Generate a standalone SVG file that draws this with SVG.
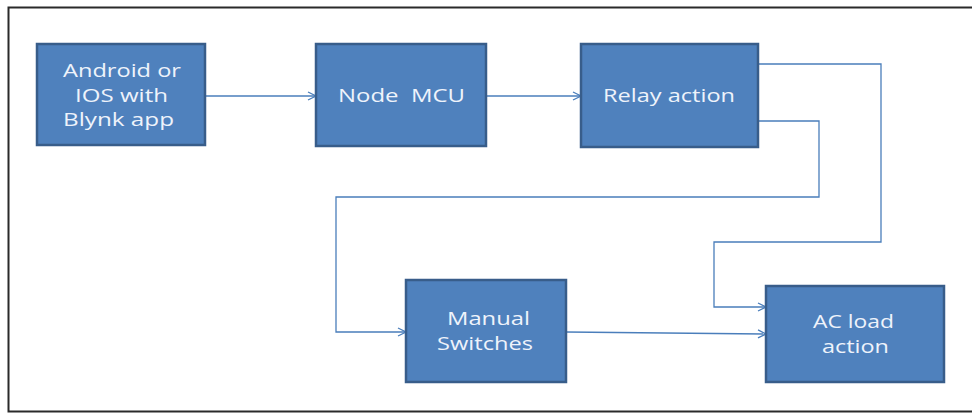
<svg xmlns="http://www.w3.org/2000/svg" width="972" height="413" viewBox="0 0 972 413">
<style>
.box{fill:#4f81bd;stroke:#385d8a;stroke-width:2.5}
.lbl{font-family:"Open Sans","Liberation Sans",sans-serif;font-size:18px;fill:#eef3fb;text-anchor:middle}
.con{fill:none;stroke:#4a7ebb;stroke-width:1.3;marker-end:url(#arr)}
</style>
<defs>
<marker id="arr" viewBox="0 0 10 10" refX="9" refY="5" markerWidth="10" markerHeight="10" markerUnits="userSpaceOnUse" orient="auto">
<path d="M1,1 L9,5 L1,9" fill="none" stroke="#4a7ebb" stroke-width="1.3"/>
</marker>
</defs>
<rect x="0" y="0" width="972" height="413" fill="#fff"/>
<path d="M972,7.5 H8.5 V411.5 H972" fill="none" stroke="#2a2a2a" stroke-width="2"/>
<g id="connectors">
<path class="con" d="M205,96 H316"/>
<path class="con" d="M486,96 H581"/>
<path class="con" d="M758,64 H881 V242 H714 V307 H766"/>
<path class="con" d="M758,121 H819 V197 H336 V332 H406"/>
<path class="con" d="M566,332 L766,334"/>
</g>
<g id="android">
<rect class="box" x="37" y="44" width="168" height="101"/>
<text class="lbl" x="122" y="77" textLength="118" lengthAdjust="spacingAndGlyphs">Android or</text>
<text class="lbl" x="121.5" y="102" textLength="93" lengthAdjust="spacingAndGlyphs">IOS with</text>
<text class="lbl" x="118.5" y="126" textLength="111" lengthAdjust="spacingAndGlyphs">Blynk app</text>
</g>
<g id="nodemcu">
<rect class="box" x="316" y="44" width="170" height="102"/>
<text class="lbl" x="401.5" y="102" textLength="127" lengthAdjust="spacingAndGlyphs" xml:space="preserve">Node  MCU</text>
</g>
<g id="relay">
<rect class="box" x="581" y="44" width="177" height="103"/>
<text class="lbl" x="669" y="102" textLength="132" lengthAdjust="spacingAndGlyphs">Relay action</text>
</g>
<g id="manual">
<rect class="box" x="406" y="280" width="160" height="102"/>
<text class="lbl" x="488.5" y="325" textLength="83" lengthAdjust="spacingAndGlyphs">Manual</text>
<text class="lbl" x="485" y="350" textLength="96" lengthAdjust="spacingAndGlyphs">Switches</text>
</g>
<g id="acload">
<rect class="box" x="766" y="286" width="178" height="96"/>
<text class="lbl" x="853.5" y="328" textLength="81" lengthAdjust="spacingAndGlyphs">AC load</text>
<text class="lbl" x="855.5" y="353" textLength="67" lengthAdjust="spacingAndGlyphs">action</text>
</g>
</svg>
